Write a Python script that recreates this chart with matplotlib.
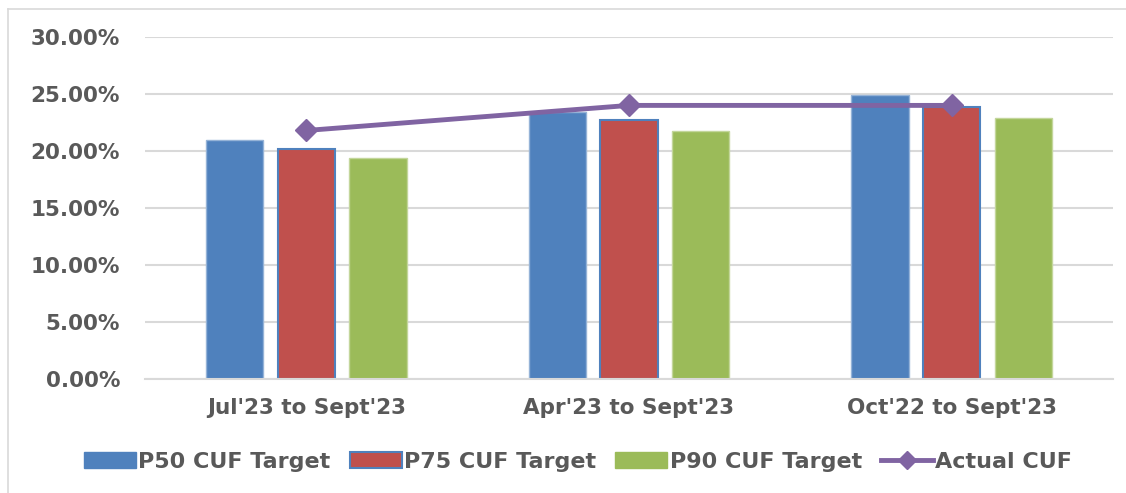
import numpy as np
import matplotlib.pyplot as plt
from matplotlib.lines import Line2D
from matplotlib.patches import Rectangle

# chart values (percent)
periods = ["Jul'23 to Sept'23", "Apr'23 to Sept'23", "Oct'22 to Sept'23"]
p50 = [21.0, 23.4, 24.9]
p75 = [20.2, 22.7, 23.9]
p90 = [19.4, 21.75, 22.9]
actual = [21.8, 24.0, 24.0]
yticks = [0, 5, 10, 15, 20, 25, 30]

plt.rcParams['font.family'] = ['DejaVu Sans']
txt = '#595959'

fig = plt.figure(figsize=(11.26, 4.93), dpi=100)
ax = fig.add_axes([145 / 1126, 1 - 379 / 493, (1113 - 145) / 1126, (379 - 37) / 493])

x = np.arange(len(periods))
w = 0.177
step = 0.222
ax.bar(x - step, p50, w, color='#4F81BD', edgecolor='#95B3D7', linewidth=1, zorder=2, label='P50 CUF Target')
ax.bar(x, p75, w, color='#C0504D', edgecolor='#4F81BD', linewidth=1.5, zorder=2, label='P75 CUF Target')
ax.bar(x + step, p90, w, color='#9BBB59', edgecolor='#C3D69B', linewidth=1, zorder=2, label='P90 CUF Target')
ax.plot(x, actual, color='#8064A2', linewidth=3.5, marker='D', markersize=11, zorder=3, label='Actual CUF')

ax.set_xlim(-0.5, 2.5)
ax.set_ylim(0, 30)
ax.set_yticks(yticks)
ax.set_yticklabels(['%.2f%%' % v for v in yticks])
ax.set_xticks(x)
ax.set_xticklabels(periods)
ax.grid(axis='y', color='#D9D9D9', linewidth=1.5, zorder=0)
ax.set_axisbelow(True)
for s in ['top', 'right', 'left']:
    ax.spines[s].set_visible(False)
ax.spines['bottom'].set_color('#D9D9D9')
ax.spines['bottom'].set_linewidth(1.5)
ax.tick_params(axis='both', length=0, labelsize=15.5, labelcolor=txt)
ax.tick_params(axis='y', pad=18)
ax.tick_params(axis='x', pad=14)
for lab in ax.get_xticklabels() + ax.get_yticklabels():
    lab.set_fontweight('bold')

handles = [
    Rectangle((0, 0), 1, 1, facecolor='#4F81BD', edgecolor='#4F81BD'),
    Rectangle((0, 0), 1, 1, facecolor='#C0504D', edgecolor='#4F81BD', linewidth=1.5),
    Rectangle((0, 0), 1, 1, facecolor='#9BBB59', edgecolor='#9BBB59'),
    Line2D([], [], color='#8064A2', linewidth=3.5, marker='D', markersize=9),
]
labels = ['P50 CUF Target', 'P75 CUF Target', 'P90 CUF Target', 'Actual CUF']
leg = fig.legend(handles, labels, loc='center', bbox_to_anchor=(578 / 1126, 1 - 462 / 493),
                 ncol=4, frameon=False, handlelength=2.35, handleheight=0.75, handletextpad=0.1,
                 columnspacing=0.85, prop={'size': 16, 'weight': 'bold'})
for t in leg.get_texts():
    t.set_color(txt)

# outer chart border
fig.add_artist(Line2D([8 / 1126, 8 / 1126], [0, 1 - 9 / 493], color='#D9D9D9', linewidth=1.2))
fig.add_artist(Line2D([8 / 1126, 1], [1 - 9 / 493, 1 - 9 / 493], color='#D9D9D9', linewidth=1.2))

fig.savefig('out.png', dpi=100)
